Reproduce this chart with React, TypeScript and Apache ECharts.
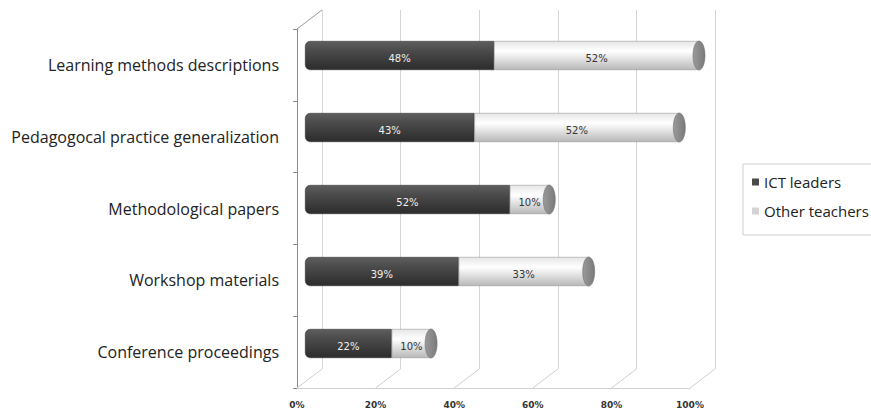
import React, { useEffect, useRef } from "react";
import * as echarts from "echarts";

const categories = [
  "Learning methods descriptions",
  "Pedagogocal practice generalization",
  "Methodological papers",
  "Workshop materials",
  "Conference proceedings",
];
const ictLeaders = [48, 43, 52, 39, 22];
const otherTeachers = [52, 52, 10, 33, 10];
const xTicks = [0, 20, 40, 60, 80, 100];

// layout constants (not data)
const FRONT = { left: 297, top: 29, width: 393, height: 359 };
const BACK = { left: 322, top: 10, width: 393, height: 359 };
const BARS = { left: 305, top: 19.5, width: 394, height: 360 };

export default function App() {
  const ref = useRef<HTMLDivElement>(null);
  useEffect(() => {
    if (!ref.current) return;
    const chart = echarts.init(ref.current, undefined, { renderer: "svg" });
    const darkGrad = new echarts.graphic.LinearGradient(0, 0, 0, 1, [
      { offset: 0, color: "#5e5e5e" },
      { offset: 0.35, color: "#4a4a4a" },
      { offset: 1, color: "#2c2c2c" },
    ]);
    const lightGrad = new echarts.graphic.LinearGradient(0, 0, 0, 1, [
      { offset: 0, color: "#e6e6e6" },
      { offset: 0.35, color: "#ffffff" },
      { offset: 1, color: "#b8b8b8" },
    ]);
    const capGrad = new echarts.graphic.LinearGradient(0, 0, 1, 0, [
      { offset: 0, color: "#9a9a9a" },
      { offset: 1, color: "#7a7a7a" },
    ]);

    const decor: any[] = [];
    const step = FRONT.width / (xTicks.length - 1);
    const bstep = BACK.width / (xTicks.length - 1);
    const fb = FRONT.top + FRONT.height;
    const bb = BACK.top + BACK.height;
    xTicks.forEach((_, i) => {
      decor.push({
        type: "line",
        shape: { x1: FRONT.left + i * step, y1: fb, x2: BACK.left + i * bstep, y2: bb },
        style: { stroke: "#cfcfcf", lineWidth: 1 },
        z: 1,
      });
    });
    decor.push({
      type: "line",
      shape: { x1: FRONT.left, y1: FRONT.top, x2: BACK.left, y2: BACK.top },
      style: { stroke: "#9a9a9a", lineWidth: 1 },
      z: 1,
    });

    chart.setOption({
      animation: false,
      backgroundColor: "#ffffff",
      graphic: decor,
      legend: {
        orient: "vertical",
        left: 743,
        top: 164,
        padding: [10, 40, 16, 9],
        borderColor: "#cfcfcf",
        borderWidth: 1,
        itemWidth: 7,
        itemHeight: 7,
        itemGap: 13,
        textStyle: { fontFamily: "Open Sans", fontSize: 15, color: "#222", lineHeight: 16 },
        data: [
          { name: "ICT leaders", icon: "rect", itemStyle: { color: "#4a4a4a", borderWidth: 0 } },
          { name: "Other teachers", icon: "rect", itemStyle: { color: "#d4d4d4", borderWidth: 0 } },
        ],
      },
      grid: [
        { ...BACK, containLabel: false },
        { ...FRONT, containLabel: false },
        { ...BARS, containLabel: false },
      ],
      xAxis: [
        {
          gridIndex: 0, type: "value", min: 0, max: 100, interval: 20,
          axisLine: { show: false }, axisTick: { show: false }, axisLabel: { show: false },
          splitLine: { show: true, lineStyle: { color: "#d6d6d6", width: 1 } },
        },
        {
          gridIndex: 1, type: "value", min: 0, max: 100, interval: 20,
          axisLine: { show: true, lineStyle: { color: "#d0d0d0" } },
          axisTick: { show: false },
          splitLine: { show: false },
          axisLabel: {
            formatter: "{value}%", fontFamily: "DejaVu Sans", fontWeight: "bold",
            fontSize: 9, color: "#333", margin: 12,
          },
        },
        {
          gridIndex: 2, type: "value", min: 0, max: 100, show: false,
        },
      ],
      yAxis: [
        { gridIndex: 0, type: "category", data: categories, show: false },
        {
          gridIndex: 1, type: "category", data: categories, inverse: true,
          axisLine: { show: true, lineStyle: { color: "#8c8c8c" } },
          axisTick: { show: true, length: 4, lineStyle: { color: "#8c8c8c" } },
          axisLabel: { fontFamily: "Open Sans", fontSize: 16, color: "#222", margin: 18 },
        },
        { gridIndex: 2, type: "category", data: categories, inverse: true, show: false },
      ],
      series: [
        {
          name: "ICT leaders", type: "bar", stack: "t", xAxisIndex: 2, yAxisIndex: 2,
          data: ictLeaders, barWidth: 29, z: 3,
          itemStyle: { color: darkGrad, borderRadius: [5, 0, 0, 5], borderColor: "#2a2a2a", borderWidth: 0.5 },
          label: {
            show: true, position: "inside", formatter: "{c}%", offset: [0, 3],
            fontFamily: "DejaVu Sans", fontSize: 10, color: "#f0f0f0",
          },
        },
        {
          name: "Other teachers", type: "bar", stack: "t", xAxisIndex: 2, yAxisIndex: 2,
          data: otherTeachers, barWidth: 29, z: 3,
          itemStyle: { color: lightGrad, borderColor: "#8a8a8a", borderWidth: 0.5 },
          label: {
            show: true, position: "inside", formatter: "{c}%", offset: [0, 3],
            fontFamily: "DejaVu Sans", fontSize: 10, color: "#333",
          },
        },
        {
          type: "custom", xAxisIndex: 2, yAxisIndex: 2, z: 4,
          data: ictLeaders.map((v, i) => [v, otherTeachers[i], i]),
          encode: { x: 0, y: 2 },
          silent: true,
          renderItem: (params: any, api: any) => {
            const total = api.value(0) + api.value(1);
            const p = api.coord([total, api.value(2)]);
            return {
              type: "ellipse",
              shape: { cx: p[0], cy: p[1], rx: 6, ry: 14.5 },
              style: { fill: capGrad, stroke: "#6e6e6e", lineWidth: 0.6 },
            };
          },
        },
      ],
    });
    return () => chart.dispose();
  }, []);
  return (
    <div
      ref={ref}
      style={{ position: "fixed", left: 0, top: 0, width: 871, height: 411 }}
    />
  );
}
